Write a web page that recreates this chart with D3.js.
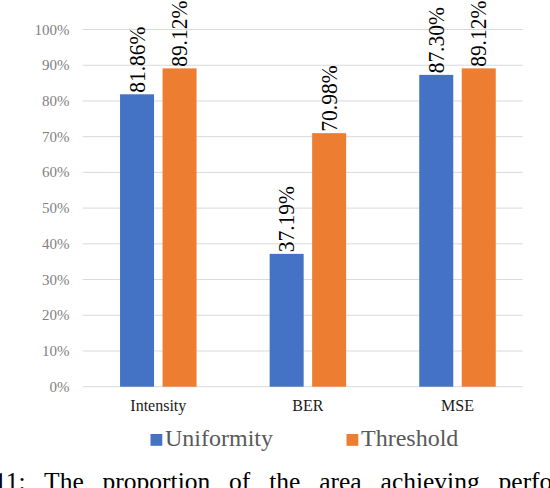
<!DOCTYPE html>
<html>
<head>
<meta charset="utf-8">
<script src="https://cdn.jsdelivr.net/npm/d3@7/dist/d3.min.js"></script>
<style>
  html, body { margin: 0; padding: 0; background: #fff; }
</style>
</head>
<body>
<div id="chart"></div>
<script>
// --- data ---
const categories = ["Intensity", "BER", "MSE"];
const series = ["Uniformity", "Threshold"];
const uniformity = [0.8186, 0.3719, 0.8730];
const threshold = [0.8912, 0.7098, 0.8912];
const yTicks = [0, 0.1, 0.2, 0.3, 0.4, 0.5, 0.6, 0.7, 0.8, 0.9, 1.0];
const caption = "11: The proportion of the area achieving performance";

const W = 550, H = 488;
const colors = { Uniformity: "#4472c4", Threshold: "#ed7d31" };
const serif = "'Liberation Serif', 'Times New Roman', Times, 'DejaVu Serif', serif";

const svg = d3.select("#chart").append("svg")
    .attr("width", W)
    .attr("height", H)
    .attr("viewBox", `0 0 ${W} ${H}`)
    .style("display", "block")
    .attr("font-family", serif);

// --- scales ---
const gridLeft = 82.7, gridRight = 522.7;
const x0 = d3.scaleBand().domain(categories).range([83.5, 532.3]).padding(0);
const x1 = d3.scaleBand().domain(series).range([0, x0.bandwidth()])
    .paddingInner(0.2).paddingOuter(0.86);
const y = d3.scaleLinear().domain([0, 1]).range([386.7, 29.5]);

// rows: one entry per bar
const rows = [];
categories.forEach((c, i) => {
    rows.push({ cat: c, s: "Uniformity", v: uniformity[i] });
    rows.push({ cat: c, s: "Threshold", v: threshold[i] });
});

// --- gridlines ---
svg.append("g").selectAll("line")
    .data(yTicks)
    .enter().append("line")
    .attr("x1", gridLeft)
    .attr("x2", gridRight)
    .attr("y1", d => y(d))
    .attr("y2", d => y(d))
    .attr("stroke", "#d9d9d9")
    .attr("stroke-width", 1);

// y tick labels
svg.append("g").selectAll("text")
    .data(yTicks)
    .enter().append("text")
    .attr("x", 69.5)
    .attr("y", d => y(d))
    .attr("dy", "0.34em")
    .attr("text-anchor", "end")
    .attr("font-family", serif)
    .attr("font-size", 15)
    .attr("fill", "#7f7f7f")
    .text(d => d3.format(".0%")(d));

// --- bars ---
svg.append("g").selectAll("rect")
    .data(rows)
    .enter().append("rect")
    .attr("x", d => x0(d.cat) + x1(d.s))
    .attr("width", x1.bandwidth())
    .attr("y", d => y(d.v))
    .attr("height", d => y(0) - y(d.v))
    .attr("fill", d => colors[d.s]);

// value labels (rotated, glyphs a bit taller like the source)
svg.append("g").selectAll("text")
    .data(rows)
    .enter().append("text")
    .attr("transform", d => `translate(${x0(d.cat) + x1(d.s) + x1.bandwidth() / 2 - 0.5},${y(d.v) - 1.5}) rotate(-90) scale(1,1.12)`)
    .attr("dy", "0.34em")
    .attr("font-family", serif)
    .attr("font-size", 21.5)
    .attr("fill", "#000")
    .text(d => d3.format(".2%")(d.v));

// category labels
svg.append("g").selectAll("text")
    .data(categories)
    .enter().append("text")
    .attr("x", d => x0(d) + x0.bandwidth() / 2)
    .attr("y", 410.7)
    .attr("text-anchor", "middle")
    .attr("font-family", serif)
    .attr("font-size", 16)
    .attr("fill", "#1a1a1a")
    .text(d => d);

// --- legend ---
const legendX = d3.scaleOrdinal().domain(series).range([150.5, 346.5]);
const legend = svg.append("g").selectAll("g")
    .data(series)
    .enter().append("g")
    .attr("transform", d => `translate(${legendX(d)},434)`);

legend.append("rect")
    .attr("width", 11.8)
    .attr("height", 11.8)
    .attr("fill", d => colors[d]);

legend.append("text")
    .attr("x", 14.5)
    .attr("y", 12)
    .attr("font-family", serif)
    .attr("font-size", 24)
    .attr("fill", "#595959")
    .text(d => d);

// --- caption (cut off at the bottom, as in the source) ---
svg.append("text")
    .attr("x", -6)
    .attr("y", 490)
    .attr("font-family", serif)
    .attr("font-size", 25.5)
    .attr("word-spacing", 12.5)
    .attr("fill", "#000")
    .text(caption);
</script>
</body>
</html>
